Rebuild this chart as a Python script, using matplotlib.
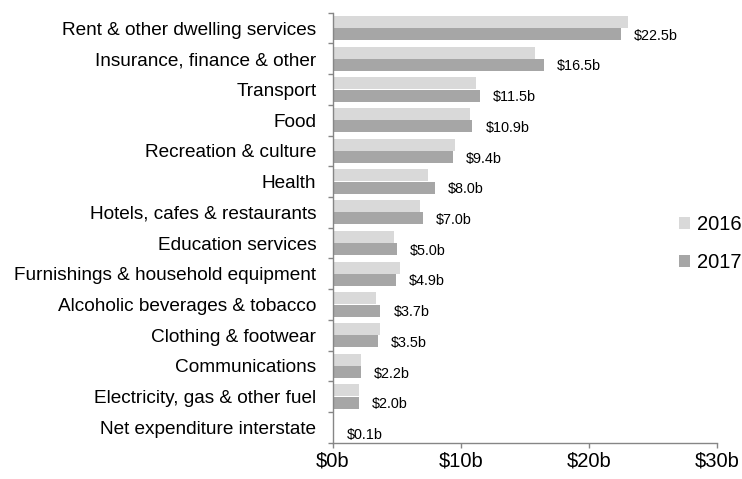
import matplotlib
matplotlib.use("Agg")
import matplotlib.pyplot as plt
import matplotlib.transforms as mtransforms
import numpy as np

plt.rcParams['font.family'] = ['Liberation Sans', 'DejaVu Sans']

categories = [
    "Rent & other dwelling services",
    "Insurance, finance & other",
    "Transport",
    "Food",
    "Recreation & culture",
    "Health",
    "Hotels, cafes & restaurants",
    "Education services",
    "Furnishings & household equipment",
    "Alcoholic beverages & tobacco",
    "Clothing & footwear",
    "Communications",
    "Electricity, gas & other fuel",
    "Net expenditure interstate",
]
values_2016 = [23.1, 15.8, 11.2, 10.7, 9.55, 7.4, 6.8, 4.8, 5.2, 3.4, 3.7, 2.2, 2.05, 0.1]
values_2017 = [22.5, 16.5, 11.5, 10.9, 9.4, 8.0, 7.0, 5.0, 4.9, 3.7, 3.5, 2.2, 2.0, 0.1]
labels_2017 = ["$22.5b", "$16.5b", "$11.5b", "$10.9b", "$9.4b", "$8.0b", "$7.0b",
               "$5.0b", "$4.9b", "$3.7b", "$3.5b", "$2.2b", "$2.0b", "$0.1b"]
xticks = [0, 10, 20, 30]
xtick_labels = ["$0b", "$10b", "$20b", "$30b"]

c16 = "#d9d9d9"
c17 = "#a6a6a6"
axis_col = "#868686"

fig = plt.figure(figsize=(7.42, 4.79), dpi=100)
ax = fig.add_axes([0.4488, 0.0758, 0.9659 - 0.4488, 0.9735 - 0.0758])

y = np.arange(len(categories))
h = 0.39
b16 = ax.barh(y - 0.2, values_2016, height=h, color=c16, label="2016")
b17 = ax.barh(y + 0.2, values_2017, height=h, color=c17, label="2017")

for yi, v, lab in zip(y, values_2017, labels_2017):
    ax.annotate(lab, xy=(v, yi + 0.2), xytext=(13, -1.5), textcoords="offset pixels",
                ha="left", va="center", fontsize=10.4, color="#000000")

ax.set_ylim(len(categories) - 0.5, -0.5)
ax.set_xlim(0, 30)
ax.set_xticks(xticks)
ax.set_xticklabels(xtick_labels, fontsize=14.5)

ax.set_yticks(y)
ax.set_yticklabels(categories, fontsize=13.7)
up = mtransforms.ScaledTranslation(0, 2 / 100, fig.dpi_scale_trans)
for t in ax.get_yticklabels():
    t.set_transform(t.get_transform() + up)
ax.set_yticks(np.arange(-0.5, len(categories), 1.0), minor=True)
ax.tick_params(axis='y', which='major', length=0, pad=12)
ax.tick_params(axis='y', which='minor', length=3.6, color=axis_col, width=1)
ax.tick_params(axis='x', which='major', length=3.6, color=axis_col, width=1, pad=3)

for s in ['top', 'right']:
    ax.spines[s].set_visible(False)
for s in ['left', 'bottom']:
    ax.spines[s].set_color(axis_col)
    ax.spines[s].set_linewidth(1)

leg = ax.legend(handles=[b16, b17], loc="center left", bbox_to_anchor=(0.915, 0.492),
                bbox_transform=fig.transFigure, frameon=False, fontsize=14.5,
                handlelength=0.55, handleheight=0.55, handletextpad=0.35,
                labelspacing=0.95, borderaxespad=0, borderpad=0)

fig.savefig("out.png", dpi=100)
